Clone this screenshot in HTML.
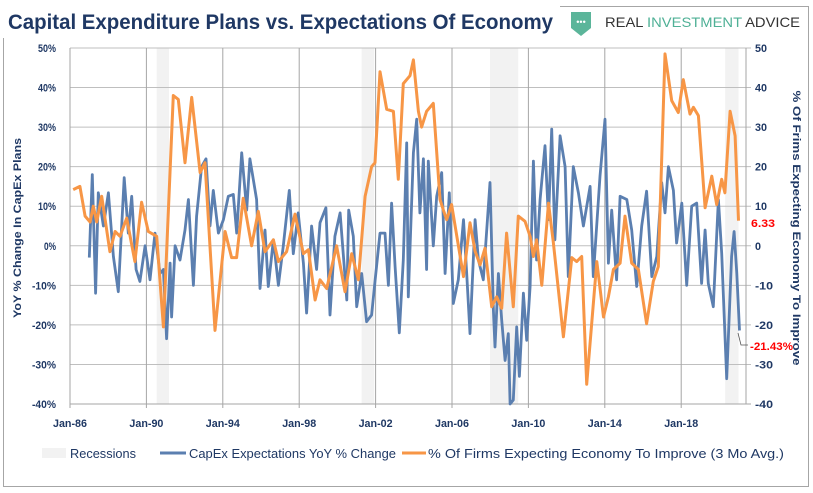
<!DOCTYPE html>
<html><head><meta charset="utf-8"><style>
html,body{margin:0;padding:0;background:#fff;}
svg{display:block;font-family:"Liberation Sans",sans-serif;}
</style></head><body>
<svg id="chart" width="813" height="493" viewBox="0 0 813 493" xmlns="http://www.w3.org/2000/svg">
<rect x="3.5" y="6.5" width="805" height="480" fill="#fff" stroke="#a6a6a6" stroke-width="1"/>
<rect x="0" y="0" width="560" height="38" fill="#fff"/>
<text x="8" y="29" font-weight="bold" font-size="21" fill="#1f3864" textLength="545" lengthAdjust="spacingAndGlyphs">Capital Expenditure Plans vs. Expectations Of Economy</text>
<g>
<path d="M571 12 h20 v16 q-10 8 -10 8 q0 0 -10 -8 z" fill="#5bb59a"/>
<text x="581" y="25" font-size="9" fill="#fff" text-anchor="middle">•••</text>
<text x="605" y="27" font-size="14" fill="#333" textLength="195" lengthAdjust="spacingAndGlyphs">REAL <tspan fill="#4fb096">INVESTMENT</tspan> ADVICE</text>
</g>
<g id="rec"></g><g id="grid"></g><g id="labels"></g>
<g id="series"></g>
<text transform="translate(21,228) rotate(-90)" text-anchor="middle" font-size="11" font-weight="bold" fill="#1f3864" textLength="180" lengthAdjust="spacingAndGlyphs">YoY % Change In CapEx Plans</text>
<text transform="translate(793,228) rotate(90)" text-anchor="middle" font-size="11" font-weight="bold" fill="#1f3864" textLength="275" lengthAdjust="spacingAndGlyphs">% Of Frims Expecting Economy To Improve</text>
<text x="751" y="227" font-size="11" font-weight="bold" fill="#ff0000" textLength="24" lengthAdjust="spacingAndGlyphs">6.33</text>
<polyline points="738,333 741,345 748,345" fill="none" stroke="#555" stroke-width="0.8"/>
<text x="750" y="350" font-size="11" font-weight="bold" fill="#ff0000" textLength="43" lengthAdjust="spacingAndGlyphs">-21.43%</text>
<g font-size="13" fill="#1f3864">
<rect x="42" y="448" width="24" height="10" fill="#f2f2f2"/>
<text x="70" y="458" textLength="66" lengthAdjust="spacingAndGlyphs">Recessions</text>
<line x1="160" y1="453" x2="186" y2="453" stroke="#5b7fb0" stroke-width="3"/>
<text x="189" y="458" textLength="207" lengthAdjust="spacingAndGlyphs">CapEx Expectations YoY % Change</text>
<line x1="402" y1="453" x2="426" y2="453" stroke="#f79646" stroke-width="3"/>
<text x="428" y="458" textLength="356" lengthAdjust="spacingAndGlyphs">% Of Firms Expecting Economy To Improve (3 Mo Avg.)</text>
</g>
</svg>
<script>
const recStart=[1990.54,2001.27,2007.99,2020.3];
const recEnd=[1991.18,2001.93,2009.47,2021.0];
const xTickYears=[1986,1990,1994,1998,2002,2006,2010,2014,2018];
const xTickLabels=["Jan-86","Jan-90","Jan-94","Jan-98","Jan-02","Jan-06","Jan-10","Jan-14","Jan-18"];
const yTicks=[50,40,30,20,10,0,-10,-20,-30,-40];
const blueDates=[1987.01,1987.17,1987.34,1987.48,1987.75,1988.01,1988.27,1988.53,1988.84,1989.05,1989.23,1989.46,1989.66,1989.93,1990.19,1990.45,1990.71,1990.89,1991.06,1991.24,1991.32,1991.50,1991.76,1992.02,1992.20,1992.46,1992.63,1992.89,1993.12,1993.33,1993.50,1993.77,1994.03,1994.29,1994.55,1994.73,1994.99,1995.25,1995.42,1995.77,1995.95,1996.21,1996.38,1996.65,1996.91,1997.17,1997.48,1997.69,1997.95,1998.22,1998.39,1998.65,1998.91,1999.09,1999.40,1999.61,1999.87,2000.14,2000.49,2000.59,2000.83,2001.01,2001.27,2001.53,2001.79,2001.97,2002.23,2002.49,2002.67,2002.84,2003.02,2003.24,2003.45,2003.63,2003.71,2003.98,2004.15,2004.32,2004.50,2004.67,2004.76,2005.02,2005.20,2005.46,2005.64,2005.86,2006.07,2006.33,2006.60,2006.77,2006.94,2007.21,2007.38,2007.64,2007.99,2008.17,2008.25,2008.43,2008.60,2008.78,2008.95,2009.04,2009.21,2009.39,2009.53,2009.74,2009.91,2010.09,2010.26,2010.43,2010.61,2010.87,2011.05,2011.22,2011.39,2011.66,2011.92,2012.09,2012.35,2012.62,2012.88,2013.23,2013.40,2013.75,2014.01,2014.19,2014.36,2014.62,2014.80,2015.15,2015.41,2015.67,2015.93,2016.19,2016.46,2016.72,2016.98,2017.15,2017.33,2017.59,2017.76,2018.03,2018.29,2018.55,2018.81,2019.07,2019.25,2019.42,2019.68,2019.95,2020.12,2020.38,2020.64,2020.77,2020.91,2021.05];
const blueValues=[-3,18,-12,13.4,5,13.4,-2.7,-11.6,17.2,3.2,12.5,-6,-9,0,-8.6,3.2,-7,-6,-23.5,-4.4,-18,0,-3.6,4,11.7,-10,7.5,20,22,5,14,3.2,6.6,12.5,13,3.2,23.5,9,22,11.7,-10.8,4,-10.3,1.5,-10,0,14,-2,8.3,-4.4,-17,5,-6,5.8,9.6,-17.5,2.4,8.3,-13.7,9,2.4,-15.4,-7,-19.2,-17.5,-9,3.2,3.2,-10,10.8,-5.3,-22,-3.6,26,-12.9,23.5,32,8.3,22,-6,21.4,0,12.5,18.5,-7,13.4,-14.6,-8.6,6.6,-7,-22.2,6.6,-3.6,-8.6,16,-16.3,-25.6,-7,-18.8,-29,-22.2,-40,-39,-20.5,-33,-12,-23.9,-10.3,21.4,-3.6,11.7,25.3,6.6,29.5,1.5,27.8,20,-7.8,20,13.4,5,15,-7.8,17.6,32,-4.4,9,-8.6,12.5,11.7,4,-10.3,5,13.8,-7.8,-2.7,16,8.3,20,14,0.7,10.8,-10,10,10.8,-9.5,4,-9.5,-15.4,11.7,-1.9,-33.6,-2.7,3.6,-7,-21.43];
const orangeDates=[1986.17,1986.52,1986.79,1987.05,1987.22,1987.40,1987.66,1988.09,1988.36,1988.62,1988.97,1989.40,1989.75,1990.10,1990.54,1990.89,1991.41,1991.67,1992.02,1992.37,1992.81,1993.07,1993.59,1994.12,1994.46,1994.72,1995.07,1995.51,1995.86,1996.21,1996.65,1996.91,1997.34,1997.78,1998.22,1998.48,1998.83,1999.09,1999.44,1999.96,2000.40,2000.75,2001.10,2001.45,2001.79,2001.97,2002.23,2002.58,2002.93,2003.19,2003.45,2003.80,2003.98,2004.24,2004.41,2004.67,2005.02,2005.37,2005.55,2005.72,2005.98,2006.60,2006.94,2007.21,2007.47,2007.73,2008.08,2008.34,2008.60,2008.86,2009.21,2009.47,2009.82,2010.09,2010.26,2010.43,2010.70,2011.05,2011.31,2011.83,2012.27,2012.53,2012.79,2013.05,2013.58,2013.93,2014.19,2014.45,2014.80,2015.06,2015.41,2015.76,2016.19,2016.54,2016.80,2017.15,2017.50,2017.85,2018.11,2018.46,2018.64,2018.90,2019.25,2019.60,2019.86,2020.12,2020.29,2020.56,2020.82,2021.00];
const orangeValues=[14.2,15,7.5,6,10,6,12.5,-1.5,3.6,2.4,7,-4,11,3.6,2.4,-20.5,38,37,21,37.5,18.5,21,-21.4,3.6,-3,-3,12,0,8.7,-1.5,1.5,-4,-1.5,8,-2,-1,-13.7,-8.6,-10.8,0,-11.6,-2,-8.6,12.5,20,21,44,34.5,34,16.8,41,43,47,34,30,34,36,11.7,9,6.6,10.4,-7.8,5.8,-1.4,-4.8,-0.6,-15.4,-12.9,-15.8,3.2,-15.4,7.5,6.2,2.4,-2.7,1.5,-10,10.8,0.7,-23,-3,-4,-2.7,-35,-4,-18,-12.9,-6,-4.4,7.5,-4.4,-6,-19.7,-9,-5.3,48.5,36.7,33.7,42,33.3,35,32.9,9.6,17.6,10.4,16.8,13.4,34,27.8,6.33];

const NS="http://www.w3.org/2000/svg";
const X0=70,X1=746,Y0=48,Y1=404;
function xs(yr){return X0+(yr-1986)*19.1;}
function ys(v){return Y1-(v+40)/90*(Y1-Y0);}
function mk(tag,attrs,parent){const e=document.createElementNS(NS,tag);for(const k in attrs)e.setAttribute(k,attrs[k]);parent.appendChild(e);return e;}
const rec=document.getElementById('rec'),grid=document.getElementById('grid'),labels=document.getElementById('labels'),series=document.getElementById('series');
for(let i=0;i<recStart.length;i++){
  const r=mk('rect',{x:xs(recStart[i]),y:Y0,width:xs(recEnd[i])-xs(recStart[i]),height:Y1-Y0,fill:'#f2f2f2'},rec);
  
  
}
yTicks.forEach(v=>{
  const l=mk('line',{x1:X0,x2:X1+5,y1:ys(v),y2:ys(v),stroke:v===-40?'#a6a6a6':'#bfbfbf','stroke-width':1},grid);
  
  
  const s1=v+'%';
  const t=mk('text',{x:56,y:ys(v)+4,'text-anchor':'end','font-size':11,'font-weight':'bold',fill:'#1f3864',textLength:s1.length*6,lengthAdjust:'spacingAndGlyphs'},labels);
  t.textContent=s1;
  
  
  const s2=String(v);
  const t2=mk('text',{x:755,y:ys(v)+4,'font-size':11,'font-weight':'bold',fill:'#1f3864',textLength:s2.length*6,lengthAdjust:'spacingAndGlyphs'},labels);
  t2.textContent=s2;
  
  
});
xTickYears.forEach((yr,i)=>{
  const l=mk('line',{x1:xs(yr),x2:xs(yr),y1:Y0,y2:Y1+4,stroke:'#a6a6a6','stroke-width':1},grid);
  
  
  const t=mk('text',{x:xs(yr),y:427,'text-anchor':'middle','font-size':11,'font-weight':'bold',fill:'#1f3864',textLength:34,lengthAdjust:'spacingAndGlyphs'},labels);
  t.textContent=xTickLabels[i];
  
  
});
const ax=mk('line',{x1:X1,x2:X1,y1:Y0,y2:Y1,stroke:'#a6a6a6','stroke-width':1},grid);


function pts(d,v){return d.map((yr,i)=>xs(yr).toFixed(1)+','+ys(v[i]).toFixed(1)).join(' ');}
const b=mk('polyline',{points:pts(blueDates,blueValues),fill:'none',stroke:'#5b7fb0','stroke-width':2.8,'stroke-linejoin':'round'},series);


const o=mk('polyline',{points:pts(orangeDates,orangeValues),fill:'none',stroke:'#f79646','stroke-width':3,'stroke-linejoin':'round'},series);


</script>
</body></html>
